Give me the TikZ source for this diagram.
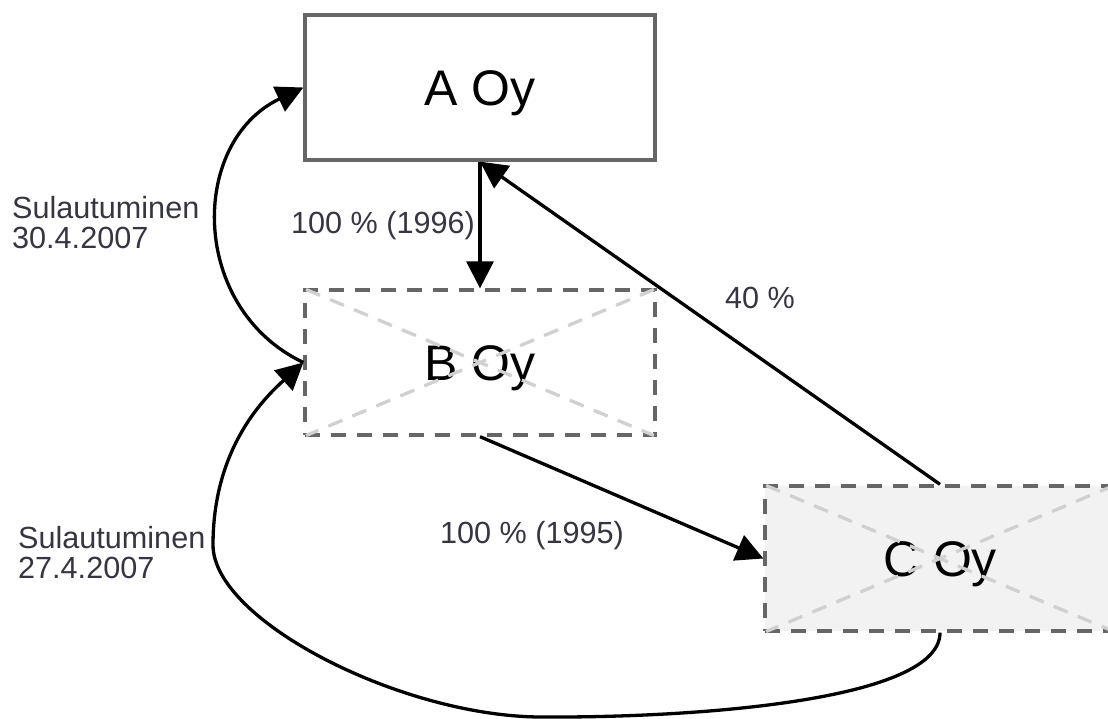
\documentclass[tikz,border=0pt]{standalone}
\usepackage{fontspec}
\setmainfont{Liberation Sans}
\usetikzlibrary{arrows.meta}
\definecolor{boxgray}{HTML}{666666}
\definecolor{xgray}{HTML}{D0D0D0}
\definecolor{cfill}{HTML}{F2F2F2}
\definecolor{labelcol}{HTML}{363642}
\begin{document}
\begin{tikzpicture}[x=1pt,y=-1pt,
  company/.style={draw=boxgray, line width=3.3pt, minimum width=350pt, minimum height=145pt,
    inner sep=0pt, text height=36pt, text depth=0pt, font=\fontsize{50}{60}\selectfont},
  gonebox/.style={company, dash pattern=on 15pt off 11pt},
  cross/.style={draw=xgray, line width=3.3pt, dash pattern=on 15pt off 11pt, shorten <=3pt, shorten >=3pt},
  conn/.style={line width=3.3pt, -{Triangle[length=27pt,width=27pt]}},
  lbl/.style={text=labelcol, font=\fontsize{30.6}{30}\selectfont, inner sep=0pt, align=left}
]
\useasboundingbox[fill=white] (0,0) rectangle (1108,718);
\node[company, fill=white] (A) at (480,87.5) {A Oy};
\node[gonebox, fill=white] (B) at (480,362.5) {B Oy};
\node[gonebox, fill=cfill] (C) at (940,558.5) {C Oy};
\draw[cross] (B.north west) -- (B.south east);
\draw[cross] (B.north east) -- (B.south west);
\draw[cross] (C.north west) -- (C.south east);
\draw[cross] (C.north east) -- (C.south west);
\draw[conn] (A.south) -- (B.north);
\draw[conn] (B.south) -- (C.west);
\draw[conn] (C.north) -- (A.south);
\draw[conn] (B.west) .. controls (189,308) and (189,142) .. (A.west);
\draw[conn] (C.south) .. controls (940,700) and (700,718) .. (540,717)
  .. controls (400,716) and (213,620) .. (213,545)
  .. controls (213,450) and (262,400) .. (B.west);
\node[lbl, anchor=base west] (l1) at (12,248) {Sulautuminen\\30.4.2007};
\node[lbl, anchor=base west] (l2) at (18,578) {Sulautuminen\\27.4.2007};
\node[lbl, anchor=base west] (p1) at (291,233) {100 \% (1996)};
\node[lbl, anchor=base west] (p2) at (725,308) {40 \%};
\node[lbl, anchor=base west] (p3) at (440,543) {100 \% (1995)};
\end{tikzpicture}
\end{document}
